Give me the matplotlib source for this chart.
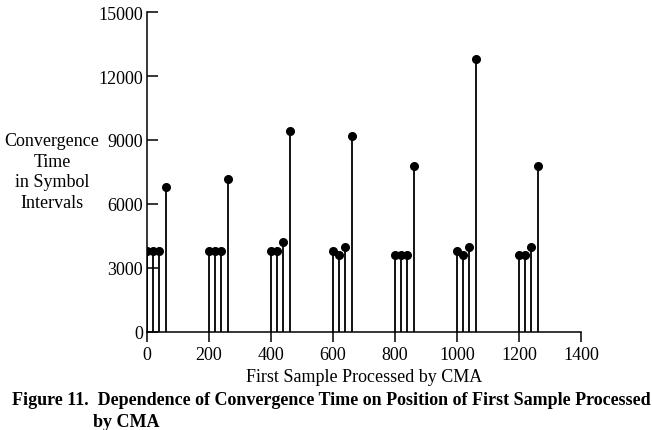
import numpy as np
import matplotlib
matplotlib.use('Agg')
import matplotlib.pyplot as plt

# first sample position and convergence time (symbol intervals)
first_sample = [0, 20, 40, 60,
                200, 220, 240, 260,
                400, 420, 440, 460,
                600, 620, 640, 660,
                800, 820, 840, 860,
                1000, 1020, 1040, 1060,
                1200, 1220, 1240, 1260]
conv_time = [3800, 3800, 3800, 6800,
             3800, 3800, 3800, 7150,
             3800, 3800, 4200, 9400,
             3800, 3600, 4000, 9200,
             3600, 3600, 3600, 7800,
             3800, 3600, 4000, 12800,
             3600, 3600, 4000, 7800]

x_ticks = [0, 200, 400, 600, 800, 1000, 1200, 1400]
y_ticks = [0, 3000, 6000, 9000, 12000, 15000]

plt.rcParams['font.family'] = ['Liberation Serif', 'DejaVu Serif']
plt.rcParams['font.size'] = 13

fig = plt.figure(figsize=(6.52, 4.31), dpi=100)
ax = fig.add_axes([147/652, 1 - 333/431, 434/652, 320/431])

ax.vlines(first_sample, 0, conv_time, color='black', linewidth=1.3)
ax.plot(first_sample, conv_time, 'o', color='black', markersize=5.5)

ax.set_xlim(0, 1400)
ax.set_ylim(0, 15000)
ax.set_xticks(x_ticks)
ax.set_yticks(y_ticks)
ax.tick_params(axis='x', direction='out', length=7, width=1.1, pad=3)
ax.tick_params(axis='y', direction='in', length=8, width=1.1, pad=3)
for s in ['top', 'right']:
    ax.spines[s].set_visible(False)
for s in ['left', 'bottom']:
    ax.spines[s].set_linewidth(1.1)

# y label block, first line level with the 9000 tick
fig.text(52/652, 1 - 133/431, "Convergence\nTime\nin Symbol\nIntervals",
         ha='center', va='top', linespacing=1.27, fontsize=13)

fig.text(364/652, 1 - 378/431, "First Sample Processed by CMA",
         ha='center', va='center', fontsize=13)
fig.text(12/652, 1 - 401/431,
         "Figure 11.  Dependence of Convergence Time on Position of First Sample Processed",
         ha='left', va='center', fontsize=13, fontweight='bold')
fig.text(93/652, 1 - 423/431, "by CMA",
         ha='left', va='center', fontsize=13, fontweight='bold')

plt.savefig('out.png', dpi=100)
